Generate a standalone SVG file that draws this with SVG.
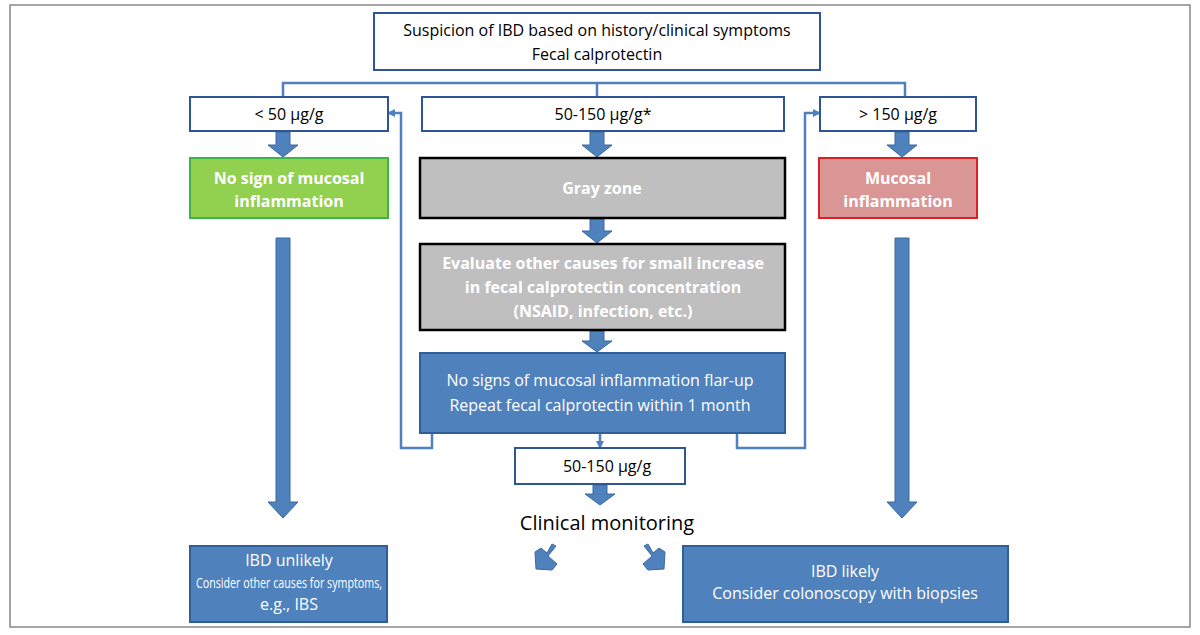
<svg xmlns="http://www.w3.org/2000/svg" width="1200" height="635" viewBox="0 0 1200 635">
<style>
text{font-family:"Open Sans","Liberation Sans",sans-serif;text-anchor:middle}
.w{fill:#fff;stroke:#2f5597;stroke-width:2}
.b{fill:#4f81bd;stroke:#2f5f96;stroke-width:2}
.g{fill:#bfbfbf;stroke:#000;stroke-width:2.5}
.t{font-size:16px;fill:#000}
.tw{font-size:16px;fill:#fff}
.tb{font-size:16px;fill:#fff;font-weight:bold}
.fa{fill:#4f81bd;stroke:#3a68a0;stroke-width:1}
.ln{fill:none;stroke:#4f81bd;stroke-width:2.5}
</style>
<defs><marker id="ah" markerWidth="8" markerHeight="8" refX="6" refY="4" orient="auto" markerUnits="userSpaceOnUse"><path d="M0,0 L8,4 L0,8 Z" fill="#4f81bd"/></marker></defs>
<rect x="0" y="0" width="1200" height="635" fill="#fff"/>
<rect x="10" y="5" width="1180" height="622" fill="none" stroke="#888" stroke-width="1.5"/>
<g id="connectors">
<path class="ln" d="M283,97 V83 H905 V97 M597,83 V97"/>
<path class="ln" d="M432,433 V448 H401 V113 H389" marker-end="url(#ah)"/>
<path class="ln" d="M737,433 V448 H805 V113 H819" marker-end="url(#ah)"/>
<path class="ln" d="M600,433 V447" marker-end="url(#ah)"/>
<path class="fa" d="M276,132 H290 V145 H298 L283,157 L268,145 H276 Z"/>
<path class="fa" d="M590,132 H604 V145 H612 L597,157 L582,145 H590 Z"/>
<path class="fa" d="M895,132 H909 V145 H917 L902,157 L887,145 H895 Z"/>
<path class="fa" d="M590,219 H604 V231 H612 L597,243 L582,231 H590 Z"/>
<path class="fa" d="M590,331 H604 V341 H612 L597,352 L582,341 H590 Z"/>
<path class="fa" d="M276,238 H290 V502 H298 L283,518 L268,502 H276 Z"/>
<path class="fa" d="M895,238 H909 V502 H917 L902,518 L887,502 H895 Z"/>
<path class="fa" d="M593,485 H607 V494 H615 L600,505 L585,494 H593 Z"/>
<path class="fa" d="M556,546 L548,556 L557,564 L552,570 L536,569 L535,552 L541,548 L547,553 L552,544 Z" />
<path class="fa" d="M644,546 L652,556 L643,564 L648,570 L664,569 L665,552 L659,548 L653,553 L648,544 Z"/>
</g>
<g id="top"><rect class="w" x="374" y="13" width="446" height="57"/><text class="t" x="597" y="36">Suspicion of IBD based on history/clinical symptoms</text><text class="t" x="597" y="60">Fecal calprotectin</text></g>
<g id="lt50"><rect class="w" x="190" y="97" width="198" height="34"/><text class="t" x="289" y="120">&lt; 50 µg/g</text></g>
<g id="mid"><rect class="w" x="422" y="97" width="362" height="34"/><text class="t" x="603" y="120">50-150 µg/g*</text></g>
<g id="gt150"><rect class="w" x="820" y="97" width="156" height="34"/><text class="t" x="898" y="120">&gt; 150 µg/g</text></g>
<g id="green"><rect x="190" y="158" width="198" height="60" fill="#92d050" stroke="#3cb44a" stroke-width="2"/><text class="tb" x="289" y="184">No sign of mucosal</text><text class="tb" x="289" y="207">inflammation</text></g>
<g id="gray"><rect class="g" x="420" y="158" width="365" height="60"/><text class="tb" x="602" y="194">Gray zone</text></g>
<g id="red"><rect x="819" y="158" width="158" height="60" fill="#da9694" stroke="#e02020" stroke-width="2"/><text class="tb" x="898" y="184">Mucosal</text><text class="tb" x="898" y="207">inflammation</text></g>
<g id="eval"><rect class="g" x="420" y="244" width="365" height="86"/><text class="tb" x="603" y="269">Evaluate other causes for small increase</text><text class="tb" x="603" y="293">in fecal calprotectin concentration</text><text class="tb" x="603" y="317">(NSAID, infection, etc.)</text></g>
<g id="nosigns"><rect class="b" x="420" y="353" width="365" height="80"/><text class="tw" x="600" y="386">No  signs of mucosal inflammation flar-up</text><text class="tw" x="600" y="411">Repeat fecal calprotectin  within  1 month</text></g>
<g id="repeat"><rect class="w" x="515" y="448" width="170" height="36"/><text class="t" x="607" y="472">50-150 µg/g</text></g>
<g id="clin"><text x="607" y="530" style="font-size:20px;fill:#000">Clinical monitoring</text></g>
<g id="unlikely"><rect class="b" x="190" y="546" width="197" height="76"/><text class="tw" x="289" y="566">IBD unlikely</text><text class="tw" x="289" y="588" style="font-size:15px" textLength="186" lengthAdjust="spacingAndGlyphs">Consider other causes for symptoms,</text><text class="tw" x="289" y="610">e.g., IBS</text></g>
<g id="likely"><rect class="b" x="683" y="546" width="325" height="76"/><text class="tw" x="845" y="577">IBD likely</text><text class="tw" x="845" y="599">Consider colonoscopy with biopsies</text></g>
</svg>
